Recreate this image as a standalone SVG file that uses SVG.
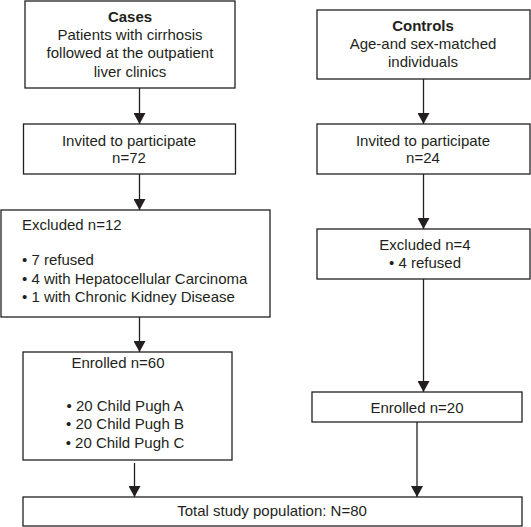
<svg xmlns="http://www.w3.org/2000/svg" width="531" height="527" viewBox="0 0 531 527">
<style>
rect{fill:#fff;stroke:#231f20;stroke-width:1.3}
text{font-family:"Liberation Sans",Arial,sans-serif;font-size:15px;fill:#231f20}
.c{text-anchor:middle}
.b{font-weight:bold}
.con line{stroke:#231f20;stroke-width:1.3;marker-end:url(#ah)}
</style>
<defs>
<marker id="ah" markerUnits="userSpaceOnUse" markerWidth="11" markerHeight="12" refX="11" refY="6" orient="auto" viewBox="0 0 11 12">
<path d="M0,0 L11,6 L0,12 Z" fill="#231f20"/>
</marker>
</defs>
<rect width="531" height="527" fill="#fff" style="stroke:none"/>
<g id="cases">
<rect x="25" y="1" width="210" height="87"/>
<text class="c b" x="130" y="22">Cases</text>
<text class="c" x="130" y="40">Patients with cirrhosis</text>
<text class="c" x="130" y="58">followed at the outpatient</text>
<text class="c" x="130" y="76.5">liver clinics</text>
</g>
<g id="invited72">
<rect x="23.5" y="124" width="212" height="50"/>
<text class="c" x="129" y="145.5">Invited to participate</text>
<text class="c" x="129" y="163">n=72</text>
</g>
<g id="excluded12">
<rect x="1" y="210" width="269" height="107"/>
<text x="22" y="229.5">Excluded n=12</text>
<text x="22" y="265">• 7 refused</text>
<text x="22" y="283.5">• 4 with Hepatocellular Carcinoma</text>
<text x="22" y="301.5">• 1 with Chronic Kidney Disease</text>
</g>
<g id="enrolled60">
<rect x="23" y="352" width="209" height="108"/>
<text class="c" x="118" y="367.5">Enrolled n=60</text>
<text class="c" x="125" y="410.5">• 20 Child Pugh A</text>
<text class="c" x="125" y="429">• 20 Child Pugh B</text>
<text class="c" x="125" y="447.5">• 20 Child Pugh C</text>
</g>
<g id="controls">
<rect x="317" y="10" width="213" height="69"/>
<text class="c b" x="423" y="30.5">Controls</text>
<text class="c" x="423" y="49">Age-and sex-matched</text>
<text class="c" x="423" y="66.5">individuals</text>
</g>
<g id="invited24">
<rect x="317" y="124" width="213" height="50"/>
<text class="c" x="423" y="145.5">Invited to participate</text>
<text class="c" x="423" y="163">n=24</text>
</g>
<g id="excluded4">
<rect x="317" y="229" width="213" height="50"/>
<text class="c" x="425" y="250">Excluded n=4</text>
<text class="c" x="425" y="268">• 4 refused</text>
</g>
<g id="enrolled20">
<rect x="312" y="392" width="210" height="30"/>
<text class="c" x="417" y="413">Enrolled n=20</text>
</g>
<g id="total">
<rect x="23" y="497" width="499" height="29"/>
<text class="c" x="272" y="516">Total study population: N=80</text>
</g>
<g class="con" id="connectors">
<line x1="139.5" y1="88" x2="139.5" y2="124"/>
<line x1="139.5" y1="174" x2="139.5" y2="210"/>
<line x1="139.5" y1="317" x2="139.5" y2="352"/>
<line x1="134.5" y1="463" x2="134.5" y2="497"/>
<line x1="423.5" y1="79" x2="423.5" y2="124"/>
<line x1="423.5" y1="174" x2="423.5" y2="229"/>
<line x1="423.5" y1="279" x2="423.5" y2="392"/>
<line x1="417" y1="422" x2="417" y2="497"/>
</g>
</svg>
